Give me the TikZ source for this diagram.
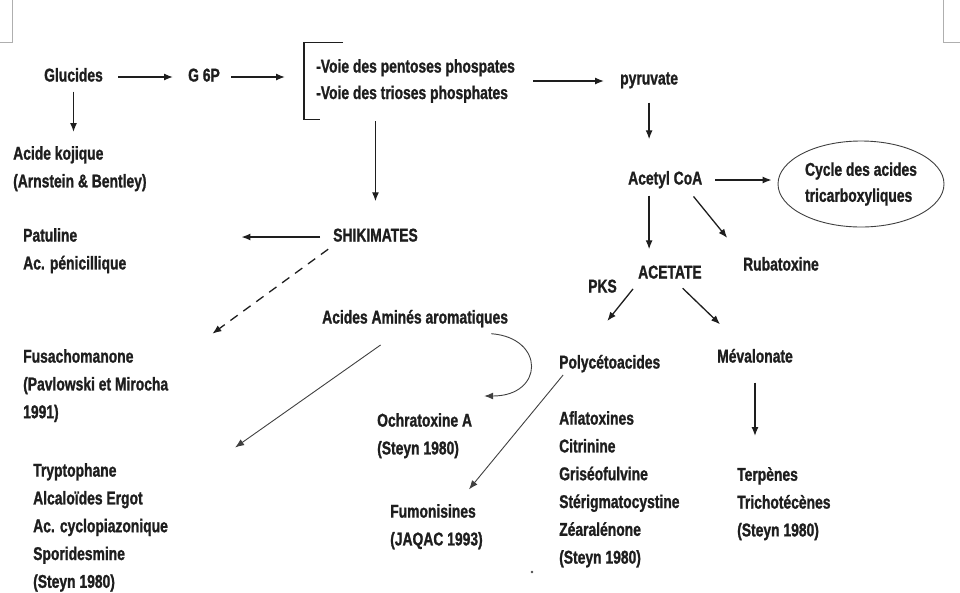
\documentclass[tikz,border=0pt]{standalone}
\usepackage{fontspec}
\setmainfont{Liberation Sans}[FakeStretch=0.75, BoldFeatures={FakeBold=1.2}]
\usepackage{tikz}
\usetikzlibrary{shapes.geometric, arrows.meta, calc}
\definecolor{ink}{RGB}{30,30,30}
\definecolor{markgray}{RGB}{175,175,175}

\tikzset{
  lbl/.style={inner sep=0pt, anchor=west, text height=13pt, text depth=4pt,
    font=\bfseries\fontsize{18.5}{27.8}\selectfont, text=ink},
  blk/.style={inner sep=0pt, anchor=north west, align=left,
    font=\bfseries\fontsize{18.5}{27.8}\selectfont, text=ink},
  flow/.style={-{Latex[length=9pt,width=7pt]}, line width=1.3pt, draw=ink},
  fine/.style={-{Latex[length=9pt,width=7pt]}, line width=0.9pt, draw=black!75},
}

\begin{document}
\begin{tikzpicture}[x=1pt, y=-1pt]
  \useasboundingbox (0,0) rectangle (960,592);
  % Page corner marks
  \draw[markgray, line width=1pt] (12,0) -- (12,42) -- (0,42);
  \draw[markgray, line width=1pt] (943,0) -- (943,42) -- (960,42);
  % Top row
  \node[lbl] (glu) at (44,77) {Glucides};
  \node[lbl] (g6p) at (188,77) {G 6P};
  \node[blk, anchor=west, inner xsep=12pt, inner ysep=0pt, minimum height=76pt,
    font=\bfseries\fontsize{18.5}{26.5}\selectfont] (voie) at (304,81)
    {-Voie des pentoses phospates\\-Voie des trioses phosphates};
  \draw[ink, line width=1.2pt] ([xshift=39pt]voie.north west) -- (voie.north west)
    -- (voie.south west) -- ([xshift=16pt]voie.south west);
  \node[lbl] (pyr) at (620,80) {pyruvate};
  \node[blk] (kojic) at (13,146) {Acide kojique\\(Arnstein \& Bentley)};
  % Right branch
  \node[lbl] (acoa) at (628,180) {Acetyl CoA};
  \node[draw=black!75, line width=0.9pt, ellipse, align=left, inner sep=0pt,
    minimum width=166pt, minimum height=86pt, text=ink,
    font=\bfseries\fontsize{18.5}{26}\selectfont] (cycle) at (861,184)
    {Cycle des acides\\tricarboxyliques};
  \node[lbl] (rubat) at (743,266) {Rubatoxine};
  \node[lbl] (acet) at (638,274) {ACETATE};
  \node[lbl] (pks) at (588,288) {PKS};
  \node[lbl] (polyc) at (559,364) {Polycétoacides};
  \node[lbl] (meval) at (717,358) {Mévalonate};
  \node[blk] (afla) at (559,411)
    {Aflatoxines\\Citrinine\\Griséofulvine\\Stérigmatocystine\\Zéaralénone\\(Steyn 1980)};
  \node[blk] (terp) at (737,467) {Terpènes\\Trichotécènes\\(Steyn 1980)};
  % Shikimate branch
  \node[lbl] (shik) at (333,237) {SHIKIMATES};
  \node[blk] (patul) at (23,228) {Patuline\\Ac. pénicillique};
  \node[lbl] (aaa) at (322,319) {Acides Aminés aromatiques};
  \node[blk] (fusa) at (23,349) {Fusachomanone\\(Pavlowski et Mirocha\\1991)};
  \node[blk] (trypt) at (33,463)
    {Tryptophane\\Alcaloïdes Ergot\\Ac. cyclopiazonique\\Sporidesmine\\(Steyn 1980)};
  \node[blk] (ochra) at (377,413) {Ochratoxine A\\(Steyn 1980)};
  \node[blk] (fumo) at (390,504) {Fumonisines\\(JAQAC 1993)};

  % Arrows, top row
  \draw[flow, shorten <=15pt, shorten >=15pt] (glu.east) -- (g6p.west);
  \draw[flow, shorten <=11pt, shorten >=19pt] (g6p.east) -- (g6p.east -| voie.west);
  \draw[flow, shorten <=6pt, shorten >=16pt] (voie.east) -- (voie.east -| pyr.west);
  \draw[flow, shorten <=2pt, shorten >=27pt] (shik.north |- voie.south) -- (shik.north);
  \draw[flow, shorten <=14pt, shorten >=32pt] (pyr.south) -- (pyr.south |- acoa.north);
  \draw[flow, shorten <=6pt, shorten >=14pt] (glu.south) -- (glu.south |- kojic.north);
  % Arrows, right branch
  \draw[flow, shorten <=13pt, shorten >=6pt] (acoa.east) -- (acoa.east -| cycle.west);
  \draw[flow, shorten <=7pt, shorten >=16pt] (acoa.south -| pyr.south) -- (acet.north -| pyr.south);
  \draw[flow, shorten <=10pt, shorten >=25pt] ([xshift=22pt]acoa.south) -- (rubat.north west);
  \draw[flow, shorten <=8pt, shorten >=44pt] (acet.south west) -- ([xshift=-30pt]polyc.north);
  \draw[flow, shorten <=8pt, shorten >=36pt] ([xshift=7pt]acet.south) -- ([xshift=-9pt]meval.north);
  \draw[flow, shorten <=16pt, shorten >=31pt] (meval.south) -- (meval.south |- terp.north);
  % Arrows, shikimate branch
  \draw[flow, shorten <=13pt, shorten >=115pt] (shik.west) -- (shik.west -| patul.east);
  \draw[flow, dash pattern=on 9pt off 7pt, shorten <=6pt, shorten >=26pt]
    (shik.south west) -- ([xshift=23pt]fusa.north east);
  \draw[fine, shorten <=30pt, shorten >=27pt] ([xshift=-10pt]aaa.south) -- ([xshift=45pt]trypt.north east);
  \draw[fine] ([xshift=-17pt, yshift=-6pt]aaa.south east)
    .. controls +(54,4) and +(60,0) .. ([xshift=12pt, yshift=17pt]ochra.north east);
  \draw[fine, shorten <=3pt, shorten >=19pt] ([xshift=6pt]polyc.south west) -- ([xshift=-26pt]fumo.north east);
  % Stray dot
  \fill[black!70] (532,572) circle (1.3pt);
\end{tikzpicture}
\end{document}
